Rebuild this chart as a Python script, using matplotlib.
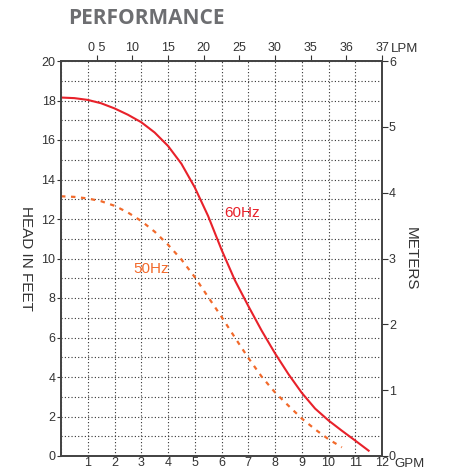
import numpy as np
import matplotlib.pyplot as plt

plt.rcParams['font.family'] = ['Liberation Sans', 'DejaVu Sans']

# 60Hz curve (GPM, head in feet)
gpm_60 = [0, 0.5, 1, 1.5, 2, 2.5, 3, 3.5, 4, 4.5, 5, 5.5, 6, 6.5, 7, 7.5, 8, 8.5, 9, 9.5, 10, 10.5, 11, 11.5]
head_60 = [18.15, 18.12, 18.03, 17.86, 17.6, 17.28, 16.9, 16.38, 15.7, 14.8, 13.6, 12.15,
           10.45, 8.9, 7.6, 6.35, 5.2, 4.15, 3.2, 2.4, 1.8, 1.28, 0.78, 0.27]

# 50Hz curve
gpm_50 = [0, 0.5, 1, 1.5, 2, 2.5, 3, 3.5, 4, 4.5, 5, 5.5, 6, 6.5, 7, 7.5, 8, 8.5, 9, 9.5, 10, 10.5]
head_50 = [13.15, 13.12, 13.04, 12.9, 12.67, 12.33, 11.9, 11.36, 10.7, 9.95, 9.06, 8.05,
           7.05, 6.0, 4.97, 4.02, 3.22, 2.55, 1.9, 1.35, 0.85, 0.44]

gpm_labels = ['', '1', '2', '3', '4', '5', '6', '7', '8', '9', '10', '11', '12']
lpm_labels = ['0 5', '10', '15', '20', '25', '30', '35', '36', '37']
feet_ticks = [0, 2, 4, 6, 8, 10, 12, 14, 16, 18, 20]
meter_ticks = [0, 1, 2, 3, 4, 5, 6]

red = '#e8212a'
orange = '#f26a2b'
txt = '#333333'
spine = '#444444'

fig = plt.figure(figsize=(4.55, 4.67), dpi=100)
ax = fig.add_axes([61 / 455, 11 / 467, 321 / 455, 395 / 467])

ax.set_xlim(0, 12)
ax.set_ylim(0, 20)
ax.set_xticks(range(13))
ax.set_xticklabels(gpm_labels)
ax.set_yticks(feet_ticks)
ax.set_yticks(range(21), minor=True)
ax.grid(True, which='both', color='#333333', linestyle=(0, (1, 2)), linewidth=0.8)
ax.tick_params(axis='x', length=0, pad=1, labelsize=9, colors=txt)
ax.tick_params(axis='y', which='major', length=3, pad=1, labelsize=9, colors=txt)
ax.tick_params(axis='y', which='minor', length=0)
ax.set_ylabel('HEAD IN FEET', rotation=270, fontsize=11, color=txt, labelpad=16)

ax.plot(gpm_60, head_60, color=red, linewidth=1.5, zorder=5)
ax.plot(gpm_50, head_50, color=orange, linewidth=1.6, linestyle=(0, (2, 2.5)), zorder=5)
ax.text(6.1, 12.3, '60Hz', color=red, fontsize=11, ha='left', va='center')
ax.text(2.7, 9.45, '50Hz', color=orange, fontsize=11, ha='left', va='center')

top = ax.twiny()
top.set_xlim(0, 9)
top.set_xticks(range(1, 10))
top.set_xticklabels(lpm_labels)
top.tick_params(axis='x', length=4, pad=1, labelsize=9, colors=txt)
top.text(1.027, 1.015, 'LPM', transform=top.transAxes, fontsize=9.5, color=txt,
         ha='left', va='bottom')

right = ax.twinx()
right.set_ylim(0, 6)
right.set_yticks(meter_ticks)
right.tick_params(axis='y', length=4, pad=1, labelsize=9, colors=txt)
right.set_ylabel('METERS', rotation=270, fontsize=11, color=txt, labelpad=16)
right.text(1.04, -0.005, 'GPM', transform=right.transAxes, fontsize=9.5, color=txt,
           ha='left', va='top')

for a in (ax, top, right):
    for s in a.spines.values():
        s.set_color(spine)
        s.set_linewidth(1.1)

fig.text(68 / 455, 1 - 8 / 467, 'PERFORMANCE', family=['Open Sans', 'DejaVu Sans'],
         fontweight='bold', fontsize=15, color='#6d6e71', ha='left', va='top')

fig.savefig('out.png', dpi=100)
